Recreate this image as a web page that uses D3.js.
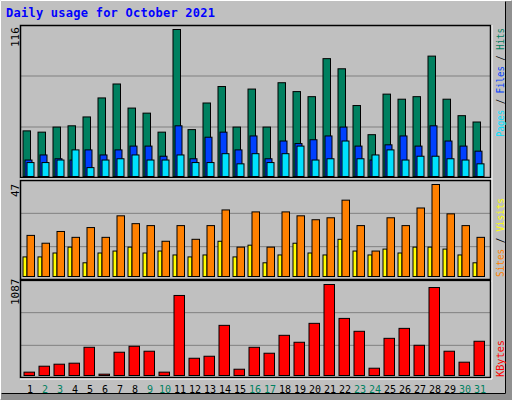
<!DOCTYPE html>
<html><head><meta charset="utf-8">
<script src="https://cdn.jsdelivr.net/npm/d3@7"></script>
<style>body{margin:0;background:#fff}</style></head>
<body><svg id="c" width="512" height="400"></svg>
<script>
const days = d3.range(1,32);
const weekend = [2,3,9,10,16,17,23,24,30,31];
const hits  = [36,35,39,40,47,62,73,54,50,35,116,37,58,71,39,69,39,74,67,63,93,85,56,33,65,61,63,95,61,48,43];
const files = [13,17,14,13,21,17,21,24,24,16,40,14,31,35,21,32,14,28,26,29,32,39,24,13,25,32,24,40,28,24,20];
const pages = [11,11,13,21,7,13,14,17,13,13,17,11,11,18,10,18,11,18,24,13,14,28,14,17,21,13,16,16,14,13,10];
const visits= [21,17,23,20,25,20,31,27,26,18,26,19,26,34,15,33,15,33,31,29,30,39,26,13,30,26,35,47,32,26,20];
const sites = [10,10,12,15,7,12,13,15,12,13,11,10,11,18,10,16,7,11,17,12,11,19,13,11,14,12,15,15,14,11,7];
const kbytes= [40,111,135,147,337,16,278,349,290,40,956,206,230,599,75,337,266,480,397,623,1087,682,528,87,444,563,361,1051,290,159,409];
const maxLabels = ["116","47","1087"];

const svg = d3.select("#c");
svg.append("rect").attr("width",512).attr("height",400).attr("fill","#c0c0c0");
svg.append("rect").attr("x",506).attr("y",0).attr("width",6).attr("height",400).attr("fill","#909090");
svg.append("rect").attr("x",0).attr("y",394).attr("width",512).attr("height",6).attr("fill","#909090");
svg.append("path").attr("d","M0.5,399.5V0.5H511.5").attr("stroke","#fff").attr("fill","none");
svg.append("path").attr("d","M1.5,393.5H505.5V1.5").attr("stroke","#000").attr("fill","none");
svg.append("text").attr("x",6).attr("y",17).text("Daily usage for October 2021")
  .attr("font-family","DejaVu Sans Mono").attr("font-weight","bold").attr("font-size",12)
  .attr("textLength",209).attr("fill","#0000ff");

const L=20,R=491;
const x = d3.scaleBand().domain(days).range([L+3,L+3+31*15]);
const panels=[{t:25,b:178},{t:180,b:280},{t:280,b:378}];
panels.forEach(p=>{
  const h=(p.b-p.t)/3;
  [1,2].forEach(k=>svg.append("line").attr("x1",L).attr("x2",R).attr("y1",p.b-k*h).attr("y2",p.b-k*h).attr("stroke","#808080"));
  svg.append("rect").attr("x",L+0.5).attr("y",p.t+0.5).attr("width",R-L-1).attr("height",p.b-p.t-1)
    .attr("fill","none").attr("stroke","#000").attr("stroke-width",1.5);
  svg.append("line").attr("x1",L).attr("x2",R+1).attr("y1",p.b+1).attr("y2",p.b+1).attr("stroke","#fff");
});
svg.append("line").attr("x1",R+1).attr("x2",R+1).attr("y1",25).attr("y2",379).attr("stroke","#fff");

function bars(data,y0,y1,max,off,w,col){
  const y=d3.scaleLinear().domain([0,max]).range([y0,y1]);
  svg.append("g").selectAll("rect").data(data).join("rect")
    .attr("x",(d,i)=>x(days[i])+off).attr("y",d=>y(d)).attr("width",w).attr("height",d=>y0-y(d))
    .attr("fill",col).attr("stroke","#000").attr("stroke-width",1);
}
bars(hits,176.5,29.5,116,0,7.5,"#008060");
bars(files,176.5,29.5,116,2,7,"#0040ff");
bars(pages,176.5,29.5,116,4,7,"#00e0ff");
bars(sites,276.5,184.5,47,0,4,"#ffff00");
bars(visits,276.5,184.5,47,4,7.5,"#ff8000");
bars(kbytes,375.5,284.5,1087,1,10.5,"#ff0000");

const mono="DejaVu Sans Mono";
svg.append("g").selectAll("text").data(days).join("text")
  .attr("x",d=>x(d)+7).attr("y",393).attr("text-anchor","middle")
  .attr("font-family",mono).attr("font-size",10)
  .attr("fill",d=>weekend.includes(d)?"#008060":"#000").text(d=>d);

[[47,maxLabels[0]],[197,maxLabels[1]],[305,maxLabels[2]]].forEach(([yy,t])=>{
  svg.append("text").attr("transform",`translate(19,${yy}) rotate(-90)`).text(t)
    .attr("font-family",mono).attr("font-size",11).attr("fill","#000");
});
function rlabel(yEnd,len,parts){
  const t=svg.append("text").attr("transform",`translate(504,${yEnd}) rotate(-90)`)
    .attr("font-family",mono).attr("font-size",10).attr("textLength",len).attr("lengthAdjust","spacingAndGlyphs");
  parts.forEach(([s,c])=>t.append("tspan").attr("fill",c).text(s));
}
rlabel(137,109,[["Pages","#00e0ff"],[" / ","#000"],["Files","#0040ff"],[" / ","#000"],["Hits","#008060"]]);
rlabel(277,79,[["Sites","#ff8000"],[" / ","#000"],["Visits","#ffff00"]]);
rlabel(377,37,[["KBytes","#ff0000"]]);
</script></body></html>
